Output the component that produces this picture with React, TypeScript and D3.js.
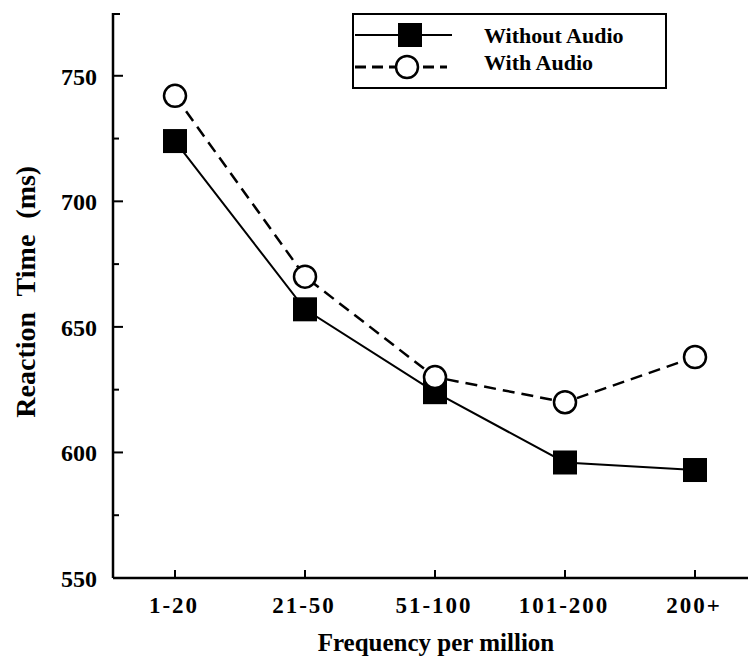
import React from "react";
import * as d3 from "d3";

const categories = ["1-20", "21-50", "51-100", "101-200", "200+"];
const withoutAudio = [724, 657, 624, 596, 593];
const withAudio = [742, 670, 630, 620, 638];
const yMajorTicks = [550, 600, 650, 700, 750];
const yMinorTicks = [575, 625, 675, 725];

const W = 748;
const H = 661;
const FONT = "'Liberation Serif', 'Times New Roman', serif";

export default function App() {
  const x = d3.scalePoint<string>().domain(categories).range([175, 695]);
  const y = d3.scaleLinear().domain([550, 775]).range([578, 13]);

  const line = d3
    .line<number>()
    .x((d, i) => x(categories[i]) as number)
    .y((d) => y(d));

  const sq = 24;
  const r = 11;

  return (
    <svg
      width={W}
      height={H}
      style={{ position: "absolute", left: 0, top: 0, background: "#fff" }}
      fontFamily={FONT}
      fontWeight="bold"
    >
      {/* axes */}
      <line x1={113} x2={113} y1={y(775)} y2={y(550)} stroke="#000" strokeWidth={2.5} />
      <line x1={113} x2={W} y1={y(550)} y2={y(550)} stroke="#000" strokeWidth={2.5} />
      <line x1={113} x2={120} y1={y(775) + 1} y2={y(775) + 1} stroke="#000" strokeWidth={2} />
      {yMajorTicks.map((t) => (
        <g key={t}>
          <line x1={113} x2={123} y1={y(t)} y2={y(t)} stroke="#000" strokeWidth={2} />
          <text x={97} y={y(t) + 9} textAnchor="end" fontSize={24}>
            {t}
          </text>
        </g>
      ))}
      {yMinorTicks.map((t) => (
        <line key={t} x1={113} x2={119} y1={y(t)} y2={y(t)} stroke="#000" strokeWidth={2} />
      ))}
      {categories.map((c) => (
        <g key={c}>
          <line x1={x(c)} x2={x(c)} y1={y(550)} y2={y(550) - 8} stroke="#000" strokeWidth={2} />
          <text
            x={(x(c) as number) - 1}
            y={613}
            textAnchor="middle"
            fontSize={23}
            letterSpacing={2}
          >
            {c}
          </text>
        </g>
      ))}
      <text x={436} y={651} textAnchor="middle" fontSize={25}>
        Frequency per million
      </text>
      <text
        transform={`translate(35,${y(664)}) rotate(-90)`}
        textAnchor="middle"
        fontSize={28}
        wordSpacing={9}
      >
        Reaction Time (ms)
      </text>

      {/* series */}
      <path d={line(withAudio) || ""} fill="none" stroke="#000" strokeWidth={2.5} strokeDasharray="12,7" />
      <path d={line(withoutAudio) || ""} fill="none" stroke="#000" strokeWidth={2} />
      {withoutAudio.map((v, i) => (
        <rect
          key={"s" + i}
          x={(x(categories[i]) as number) - sq / 2}
          y={y(v) - sq / 2}
          width={sq}
          height={sq}
          fill="#000"
        />
      ))}
      {withAudio.map((v, i) => (
        <circle
          key={"c" + i}
          cx={x(categories[i]) as number}
          cy={y(v)}
          r={r}
          fill="#fff"
          stroke="#000"
          strokeWidth={2.5}
        />
      ))}

      {/* legend */}
      <rect x={353} y={14} width={313} height={74} fill="#fff" stroke="#000" strokeWidth={2} />
      <line x1={355} x2={452} y1={35} y2={35} stroke="#000" strokeWidth={2} />
      <rect x={410 - sq / 2} y={35 - sq / 2} width={sq} height={sq} fill="#000" />
      <line x1={355} x2={447} y1={67} y2={67} stroke="#000" strokeWidth={3} strokeDasharray="11,6" />
      <circle cx={407} cy={67} r={r} fill="#fff" stroke="#000" strokeWidth={2.5} />
      <text x={484} y={43} fontSize={22}>
        Without Audio
      </text>
      <text x={484} y={70} fontSize={22}>
        With Audio
      </text>
    </svg>
  );
}
